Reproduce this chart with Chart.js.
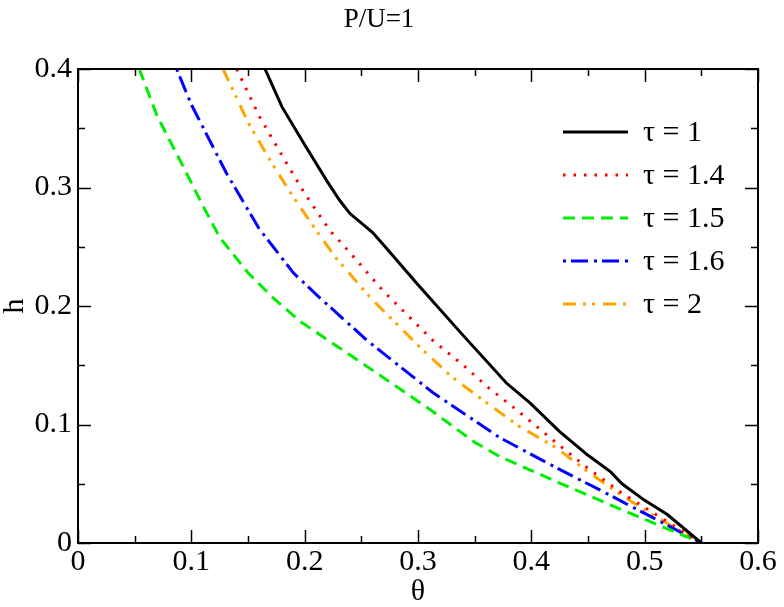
<!DOCTYPE html>
<html>
<head>
<meta charset="utf-8">
<script src="https://cdn.jsdelivr.net/npm/chart.js@4"></script>
<style>
  html, body { margin: 0; padding: 0; background: #fff; }
  #wrap { width: 784px; height: 607px; }
</style>
</head>
<body>
<div id="wrap"><canvas id="chart" width="784" height="607"></canvas></div>
<script>
const FONT = "'Liberation Serif', 'DejaVu Serif', serif";

// curve data (theta, h)
const theta1 = [0.165, 0.18, 0.2, 0.22, 0.231, 0.24, 0.26, 0.271, 0.3, 0.34, 0.378, 0.399, 0.425, 0.45, 0.47, 0.48, 0.5, 0.52, 0.55];
const h1     = [0.4, 0.368, 0.336, 0.305, 0.289, 0.278, 0.262, 0.25, 0.218, 0.175, 0.135, 0.118, 0.094, 0.074, 0.06, 0.05, 0.036, 0.024, 0];

const theta14 = [0.14, 0.16, 0.18, 0.2, 0.222, 0.24, 0.27, 0.313, 0.34, 0.361, 0.39, 0.424, 0.45, 0.48, 0.51, 0.55];
const h14     = [0.4, 0.36, 0.327, 0.295, 0.264, 0.245, 0.212, 0.171, 0.15, 0.132, 0.11, 0.083, 0.063, 0.042, 0.024, 0];

const theta15 = [0.054, 0.07, 0.09, 0.11, 0.125, 0.15, 0.172, 0.196, 0.255, 0.313, 0.35, 0.372, 0.424, 0.47, 0.5, 0.55];
const h15     = [0.4, 0.36, 0.323, 0.285, 0.258, 0.228, 0.207, 0.187, 0.149, 0.111, 0.085, 0.073, 0.051, 0.032, 0.02, 0];

const theta16 = [0.087, 0.1, 0.131, 0.16, 0.19, 0.211, 0.255, 0.313, 0.372, 0.423, 0.46, 0.5, 0.55];
const h16     = [0.4, 0.37, 0.312, 0.265, 0.228, 0.209, 0.171, 0.127, 0.089, 0.063, 0.045, 0.025, 0];

const theta2 = [0.128, 0.15, 0.17, 0.19, 0.21, 0.228, 0.26, 0.302, 0.33, 0.361, 0.39, 0.421, 0.45, 0.48, 0.51, 0.55];
const h2     = [0.4, 0.355, 0.322, 0.292, 0.264, 0.24, 0.205, 0.165, 0.14, 0.118, 0.098, 0.081, 0.06, 0.04, 0.022, 0];

const seriesLabels = ["τ = 1", "τ = 1.4", "τ = 1.5", "τ = 1.6", "τ = 2"];
const xTicks = [0, 0.1, 0.2, 0.3, 0.4, 0.5, 0.6];
const yTicks = [0, 0.1, 0.2, 0.3, 0.4];

function pts(xs, ys) {
  return xs.map((x, i) => ({ x: x, y: ys[i] }));
}

const styles = [
  { color: "#000000", dash: [] },
  { color: "#ff0000", dash: [2.5, 8] },
  { color: "#00ee00", dash: [12, 7] },
  { color: "#0000ff", dash: [3, 5, 17, 6] },
  { color: "#ffa500", dash: [13, 7, 3, 6, 3, 8] }
];
const allData = [pts(theta1, h1), pts(theta14, h14), pts(theta15, h15), pts(theta16, h16), pts(theta2, h2)];

const datasets = allData.map((d, i) => ({
  label: seriesLabels[i],
  data: d,
  borderColor: styles[i].color,
  borderDash: styles[i].dash,
  borderWidth: 3,
  pointRadius: 0,
  tension: 0,
  fill: false
}));

// frame + inward ticks like the original plot
const framePlugin = {
  id: "frame",
  afterDraw(chart) {
    const { ctx, chartArea: a, scales } = chart;
    const xs = scales.x, ys = scales.y;
    ctx.save();
    ctx.strokeStyle = "#000";
    ctx.lineWidth = 1.5;
    for (let v = 0; v <= 0.6001; v += 0.05) {
      const px = Math.round(xs.getPixelForValue(v)) + 0.5;
      const major = Math.abs(v * 10 - Math.round(v * 10)) < 1e-6;
      const len = major ? 13 : 7;
      ctx.beginPath();
      ctx.moveTo(px, a.bottom); ctx.lineTo(px, a.bottom - len);
      ctx.moveTo(px, a.top); ctx.lineTo(px, a.top + len);
      ctx.stroke();
    }
    for (let v = 0; v <= 0.4001; v += 0.05) {
      const py = Math.round(ys.getPixelForValue(v)) + 0.5;
      const major = Math.abs(v * 10 - Math.round(v * 10)) < 1e-6;
      const len = major ? 13 : 7;
      ctx.beginPath();
      ctx.moveTo(a.left, py); ctx.lineTo(a.left + len, py);
      ctx.moveTo(a.right, py); ctx.lineTo(a.right - len, py);
      ctx.stroke();
    }
    ctx.lineWidth = 2;
    ctx.strokeRect(a.left, a.top, a.right - a.left, a.bottom - a.top);

    // legend inside plot
    ctx.font = "30px " + FONT;
    ctx.textBaseline = "middle";
    ctx.fillStyle = "#000";
    chart.data.datasets.forEach((ds, i) => {
      const y = 132 + i * 43;
      ctx.beginPath();
      ctx.strokeStyle = ds.borderColor;
      ctx.lineWidth = 3;
      ctx.setLineDash(ds.borderDash);
      ctx.moveTo(563, y); ctx.lineTo(628, y);
      ctx.stroke();
      ctx.setLineDash([]);
      ctx.fillText(ds.label, 643, y + 1);
    });
    ctx.restore();
  }
};

new Chart(document.getElementById("chart"), {
  type: "line",
  data: { datasets: datasets },
  plugins: [framePlugin],
  options: {
    responsive: false,
    animation: false,
    layout: { padding: { left: 0, right: 26, top: 0, bottom: 0 } },
    plugins: {
      legend: { display: false },
      tooltip: { enabled: false },
      title: {
        display: true,
        text: "P/U=1",
        color: "#000",
        font: { family: FONT, size: 27, weight: "normal", lineHeight: 1.2 },
        padding: { top: 4, bottom: 32.6 }
      }
    },
    scales: {
      x: {
        type: "linear",
        min: 0, max: 0.6,
        afterBuildTicks: s => { s.ticks = xTicks.map(v => ({ value: v })); },
        afterFit: s => { s.height = 64; },
        grid: { display: false, drawTicks: false },
        border: { display: false },
        ticks: { color: "#000", padding: 1, maxRotation: 0, font: { family: FONT, size: 30 } },
        title: { display: true, text: "θ", color: "#000", padding: 0, font: { family: FONT, size: 30, lineHeight: 1 } }
      },
      y: {
        type: "linear",
        min: 0, max: 0.4,
        afterBuildTicks: s => { s.ticks = yTicks.map(v => ({ value: v })); },
        afterFit: s => { s.width = 78; },
        grid: { display: false, drawTicks: false },
        border: { display: false },
        ticks: { color: "#000", padding: 6, font: { family: FONT, size: 30 } },
        title: { display: true, text: "h", color: "#000", padding: 0, font: { family: FONT, size: 30, lineHeight: 1 } }
      }
    }
  }
});
</script>
</body>
</html>
